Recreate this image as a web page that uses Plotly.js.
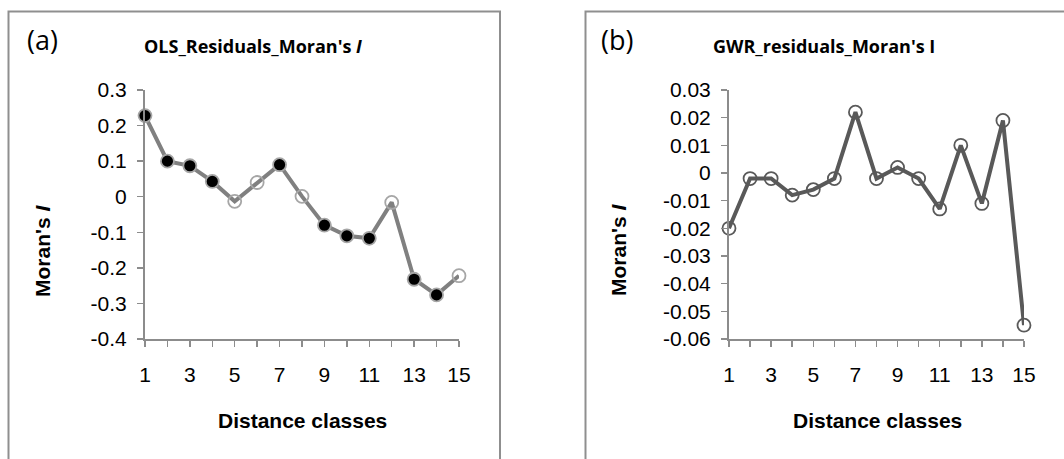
<!DOCTYPE html>
<html>
<head>
<meta charset="utf-8">
<script src="https://cdn.plot.ly/plotly-3.0.1.min.js"></script>
<style>
  html, body { margin: 0; padding: 0; background: #ffffff; }
  #chart { width: 1064px; height: 459px; }
</style>
</head>
<body>
<div id="chart"></div>
<script>
// Distance classes shared by both correlograms
const distanceClasses = [1, 2, 3, 4, 5, 6, 7, 8, 9, 10, 11, 12, 13, 14, 15];
const xTickLabels = ['1', '', '3', '', '5', '', '7', '', '9', '', '11', '', '13', '', '15'];

// (a) Moran's I of OLS residuals; 1 = significant class (filled marker)
const olsMoransI = [0.228, 0.100, 0.087, 0.043, -0.013, 0.040, 0.090, 0.001, -0.080, -0.110, -0.117, -0.016, -0.232, -0.276, -0.222];
const olsSignificant = [1, 1, 1, 1, 0, 0, 1, 0, 1, 1, 1, 0, 1, 1, 0];
const olsYTicks = [0.3, 0.2, 0.1, 0, -0.1, -0.2, -0.3, -0.4];
const olsYTickLabels = ['0.3', '0.2', '0.1', '0', '-0.1', '-0.2', '-0.3', '-0.4'];

// (b) Moran's I of GWR residuals
const gwrMoransI = [-0.020, -0.002, -0.002, -0.008, -0.006, -0.002, 0.022, -0.002, 0.002, -0.002, -0.013, 0.010, -0.011, 0.019, -0.055];
const gwrYTicks = [0.03, 0.02, 0.01, 0, -0.01, -0.02, -0.03, -0.04, -0.05, -0.06];
const gwrYTickLabels = ['0.03', '0.02', '0.01', '0', '-0.01', '-0.02', '-0.03', '-0.04', '-0.05', '-0.06'];

const W = 1064, H = 459;
const px = x => x / W;
const py = y => 1 - y / H;

const axisGray = '#8c8c8c';
const tickFont = { family: 'Liberation Sans, Arial, sans-serif', size: 21, color: '#000000' };
const labelFont = { family: 'Liberation Sans, Arial, sans-serif', size: 21, color: '#000000' };
const headFont = { family: 'Open Sans, sans-serif', size: 18, color: '#000000' };
const panelFont = { family: 'Open Sans, sans-serif', size: 27, color: '#000000' };

const olsTrace = {
  x: distanceClasses,
  y: olsMoransI,
  xaxis: 'x', yaxis: 'y',
  mode: 'lines+markers',
  cliponaxis: false,
  line: { color: '#808080', width: 4 },
  marker: {
    symbol: 'circle',
    size: 13,
    color: olsSignificant.map(s => s ? '#000000' : 'rgba(255,255,255,0)'),
    line: { color: '#a6a6a6', width: 1.8 }
  },
  hoverinfo: 'x+y'
};

const gwrTrace = {
  x: distanceClasses,
  y: gwrMoransI,
  xaxis: 'x2', yaxis: 'y2',
  mode: 'lines+markers',
  cliponaxis: false,
  line: { color: '#595959', width: 4 },
  marker: {
    symbol: 'circle',
    size: 13,
    color: 'rgba(255,255,255,0)',
    line: { color: '#595959', width: 1.8 }
  },
  hoverinfo: 'x+y'
};

function xAxis(domain, anchor) {
  return {
    domain: domain, anchor: anchor,
    range: [1, 15],
    tickmode: 'array', tickvals: distanceClasses, ticktext: xTickLabels,
    ticks: 'outside', ticklen: 6, tickwidth: 1.5, tickcolor: axisGray,
    ticklabelstandoff: 10,
    showline: true, linecolor: axisGray, linewidth: 2,
    showgrid: false, zeroline: false,
    tickfont: tickFont, fixedrange: true
  };
}

function yAxis(domain, anchor, range, vals, text) {
  return {
    domain: domain, anchor: anchor,
    range: range,
    tickmode: 'array', tickvals: vals, ticktext: text,
    ticks: 'outside', ticklen: 6, tickwidth: 1.5, tickcolor: axisGray,
    ticklabelstandoff: 6,
    showline: true, linecolor: axisGray, linewidth: 2,
    showgrid: false, zeroline: false,
    tickfont: tickFont, fixedrange: true
  };
}

const yDomain = [py(339), py(90)];

function note(text, x, y, font, extra) {
  return Object.assign({
    text: text, x: px(x), y: py(y), xref: 'paper', yref: 'paper',
    xanchor: 'center', yanchor: 'middle', showarrow: false, font: font
  }, extra || {});
}

const layout = {
  width: W, height: H,
  margin: { l: 0, r: 0, t: 0, b: 0, pad: 0 },
  paper_bgcolor: '#ffffff', plot_bgcolor: 'rgba(0,0,0,0)',
  showlegend: false,
  xaxis: xAxis([px(145), px(459)], 'y'),
  yaxis: yAxis(yDomain, 'x', [-0.4, 0.3], olsYTicks, olsYTickLabels),
  xaxis2: xAxis([px(729), px(1024)], 'y2'),
  yaxis2: yAxis(yDomain, 'x2', [-0.06, 0.03], gwrYTicks, gwrYTickLabels),
  shapes: [
    { type: 'rect', xref: 'paper', yref: 'paper', x0: px(8.5), x1: px(500), y0: -0.1, y1: py(11.5),
      line: { color: '#8f8f8f', width: 2 }, fillcolor: 'rgba(0,0,0,0)', layer: 'below' },
    { type: 'rect', xref: 'paper', yref: 'paper', x0: px(585.5), x1: 1.1, y0: -0.1, y1: py(11.5),
      line: { color: '#8f8f8f', width: 2 }, fillcolor: 'rgba(0,0,0,0)', layer: 'below' }
  ],
  annotations: [
    note('(a)', 42, 39, panelFont),
    note('(b)', 617, 39, panelFont),
    note("<b>OLS_Residuals_Moran's <i>I</i></b>", 253, 46, headFont),
    note("<b>GWR_residuals_Moran's I</b>", 824, 46, headFont),
    note("<b>Moran's <i>I</i></b>", 42, 251, labelFont, { textangle: -90 }),
    note("<b>Moran's <i>I</i></b>", 618, 250, labelFont, { textangle: -90 }),
    note('<b>Distance classes</b>', 302, 420, labelFont),
    note('<b>Distance classes</b>', 877, 420, labelFont)
  ]
};

Plotly.newPlot('chart', [olsTrace, gwrTrace], layout, { displayModeBar: false, staticPlot: true });
</script>
</body>
</html>
